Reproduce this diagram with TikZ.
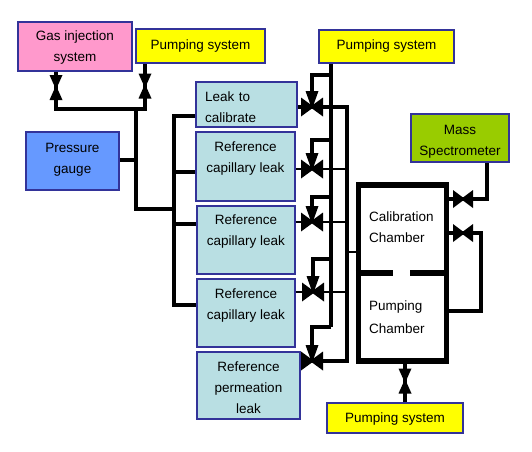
\documentclass[tikz,border=0pt]{standalone}
\usepackage{fontspec}
\setmainfont{Liberation Sans}
\definecolor{gasfill}{HTML}{FF99CC}
\definecolor{pumpfill}{HTML}{FFFF00}
\definecolor{gaugefill}{HTML}{6699FF}
\definecolor{leakfill}{HTML}{B9DFE3}
\definecolor{massfill}{HTML}{99CC00}
\definecolor{boxline}{HTML}{333399}
\tikzset{
  unitbox/.style={draw=boxline, line width=1.8pt, align=center, inner sep=0pt},
  chamberlabel/.style={anchor=west, align=left, inner sep=0pt},
  pipe/.style={line width=3.3pt, line cap=butt, line join=miter},
  thinpipe/.style={line width=2.4pt, line cap=butt, line join=miter},
  wall/.style={line width=5.5pt, line cap=butt},
  valveside/.pic={
    \fill (-11,-9.5) -- (2,0) -- (-11,9.5) -- cycle;
    \fill (11,-9.5) -- (-2,0) -- (11,9.5) -- cycle;
    \fill (-6.5,-16) -- (6.5,-16) -- (0,2) -- cycle;
  },
  valveplain/.pic={
    \fill (-10,-9) -- (2,0) -- (-10,9) -- cycle;
    \fill (10,-9) -- (-2,0) -- (10,9) -- cycle;
  },
  valveup/.pic={
    \fill (-6.5,-12.5) -- (6.5,-12.5) -- (0,2) -- cycle;
    \fill (-6.5,12.5) -- (6.5,12.5) -- (0,-2) -- cycle;
  }
}
\begin{document}
\begin{tikzpicture}[x=1pt, y=-1pt, font=\fontsize{13.5}{21}\selectfont]

  %% boxes
  \node[unitbox, fill=gasfill, minimum width=114pt, minimum height=49pt] (gas) at (75,46.5) {\mbox{}\\[-8.5pt]Gas injection\\system};
  \node[unitbox, fill=pumpfill, minimum width=129pt, minimum height=34pt] (pumpa) at (200.5,46) {Pumping system};
  \node[unitbox, fill=pumpfill, minimum width=135pt, minimum height=33pt] (pumpb) at (386.5,46.5) {Pumping system};
  \node[unitbox, fill=pumpfill, minimum width=136pt, minimum height=30pt] (pumpc) at (395,418) {\mbox{}\\[-9.5pt]Pumping system};
  \node[unitbox, fill=gaugefill, minimum width=93pt, minimum height=58pt] (gauge) at (72.5,161) {Pressure\\gauge\\[-16pt]\mbox{}};
  \node[unitbox, fill=massfill, minimum width=98pt, minimum height=48pt] (mass) at (460,138) {\mbox{}\\[-5pt]Mass\\Spectrometer};
  \node[unitbox, fill=leakfill, minimum width=101pt, minimum height=45pt, text width=83pt, align=left] (leak) at (246.5,104.5) {\mbox{}\\[-5pt]Leak to\\calibrate};
  \node[unitbox, fill=leakfill, minimum width=99pt, minimum height=69pt] (refa) at (245.5,166.5) {\mbox{}\\[-9.5pt]Reference\\capillary leak\\\mbox{}};
  \node[unitbox, fill=leakfill, minimum width=98pt, minimum height=68pt] (refb) at (246,240) {\mbox{}\\[-9.5pt]Reference\\capillary leak\\\mbox{}};
  \node[unitbox, fill=leakfill, minimum width=98pt, minimum height=68pt] (refc) at (246,313) {\mbox{}\\[-7.5pt]Reference\\capillary leak\\\mbox{}};
  \node[unitbox, fill=leakfill, minimum width=103pt, minimum height=67pt] (refd) at (248.5,385.5) {\mbox{}\\[-7pt]Reference\\permeation\\leak};

  %% chambers
  \node[draw, wall, minimum width=88pt, minimum height=176pt, inner sep=0pt] (chamber) at (402.5,273) {};
  \coordinate (wallw) at (chamber.west |- 0,273);
  \coordinate (walle) at (chamber.east |- 0,273);
  \draw[wall] (wallw) -- (393,273);
  \draw[wall] (410,273) -- (walle);
  \node[chamberlabel] (calib) at (369,227.5) {Calibration\\Chamber};
  \node[chamberlabel, font=\fontsize{13.5}{23}\selectfont] (pumping) at (369,317.5) {Pumping\\Chamber};

  %% valve points
  \coordinate (vgas) at (56,87.5);
  \coordinate (vpumpa) at (145,86);
  \coordinate (vleak) at (312,107);
  \coordinate (vrefa) at (312,169);
  \coordinate (vrefb) at (312,222);
  \coordinate (vrefc) at (313,292);
  \coordinate (vrefd) at (312,361);
  \coordinate (vmass) at (463,199);
  \coordinate (vloop) at (463,233);
  \coordinate (vbottom) at (405,381);

  %% left side
  \coordinate (jtop) at (136,109);
  \coordinate (jlow) at (136,209);
  \coordinate (jbus) at (174,209);
  \draw[pipe] (vgas |- gas.south) -- (vgas |- jtop) -- (vpumpa |- jtop) -- (vpumpa |- pumpa.south);
  \draw[pipe] (jtop) -- (jlow) -- (jbus);
  \draw[pipe] (gauge.east |- 0,160) -- (136,160);
  \draw[pipe] (leak.west |- 0,116) -- (174,116) -- (174,305) -- (refc.west |- 0,305);
  \draw[pipe] (174,172) -- (refa.west |- 0,172);
  \draw[pipe] (174,224) -- (refb.west |- 0,224);

  %% pump line and branches
  \draw[pipe] (331,0 |- pumpb.south) -- (331,327);
  \draw[pipe] (331,75) -- (vleak |- 0,75) -- (vleak);
  \draw[pipe] (331,140) -- (vrefa |- 0,140) -- (vrefa);
  \draw[pipe] (331,197) -- (vrefb |- 0,197) -- (vrefb);
  \draw[pipe] (331,259) -- (vrefc |- 0,259) -- (vrefc);
  \draw[pipe] (331,327) -- (vrefd |- 0,327) -- (vrefd);

  %% return line
  \draw[pipe] (leak.east |- vleak) -- (347,107) -- (347,361) -- (refd.east |- vrefd);
  \draw[thinpipe] (refa.east |- vrefa) -- (347,169);
  \draw[thinpipe] (refb.east |- vrefb) -- (347,222);
  \draw[thinpipe] (refc.east |- vrefc) -- (347,292);
  \draw[thinpipe] (347,252) -- (chamber.west |- 0,252);

  %% right side
  \draw[pipe] (chamber.east |- vmass) -- (487,199) -- (487,0 |- mass.south);
  \draw[pipe] (chamber.east |- vloop) -- (481,233) -- (481,311) -- (chamber.east |- 0,311);
  \draw[pipe] (vbottom |- chamber.south) -- (vbottom |- pumpc.north);

  %% valves
  \pic at (vgas) {valveup};
  \pic at (vpumpa) {valveup};
  \pic at (vbottom) {valveup};
  \pic at (vleak) {valveside};
  \pic at (vrefa) {valveside};
  \pic at (vrefb) {valveside};
  \pic at (vrefc) {valveside};
  \pic at (vrefd) {valveside};
  \pic at (vmass) {valveplain};
  \pic at (vloop) {valveplain};

  \pgfresetboundingbox
  \path[use as bounding box] (0,0) rectangle (532,451);
\end{tikzpicture}
\end{document}
